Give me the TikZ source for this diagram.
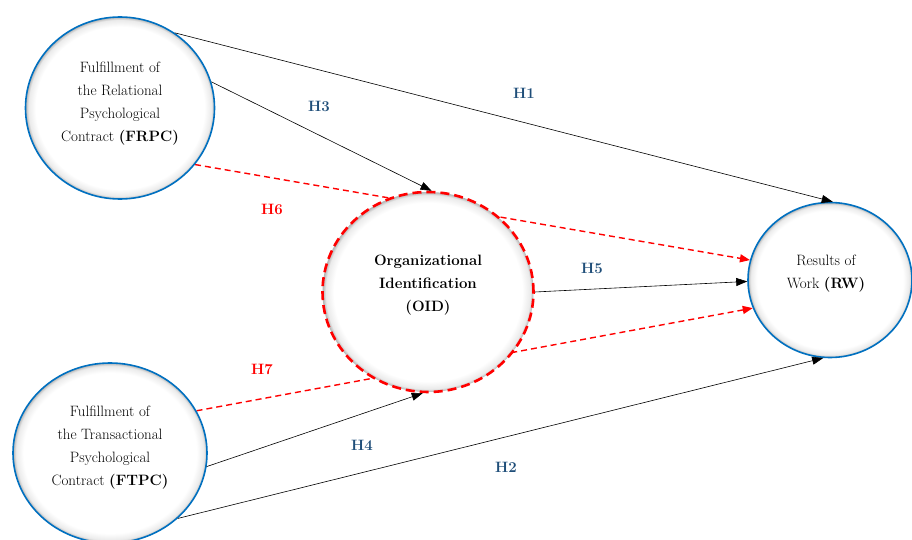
\documentclass[tikz,border=0pt]{standalone}
\usepackage{fontspec}
\setmainfont{Latin Modern Roman}
\usetikzlibrary{shapes.geometric,arrows.meta}
\pgfdeclarelayer{bg}
\pgfsetlayers{bg,main}
\definecolor{circblue}{RGB}{0,112,192}
\definecolor{hblue}{RGB}{31,78,121}
\definecolor{hred}{RGB}{255,0,0}
\colorlet{shadeA}{black!8}
\colorlet{shadeB}{black!30}
\pgfdeclareradialshading{innershadow}{\pgfpoint{0bp}{0bp}}{color(0bp)=(white); color(22.3bp)=(white); color(24.2bp)=(shadeA); color(25bp)=(shadeB); color(50bp)=(shadeB)}
\begin{document}
\begin{tikzpicture}[x=1pt,y=-1pt,
  construct/.style={ellipse, draw=circblue, line width=1.6pt, shading=innershadow, inner sep=0pt},
  mediator/.style={ellipse, draw=hred, line width=2.6pt, dash pattern=on 9pt off 5pt, shading=innershadow, inner sep=0pt},
  txt/.style={align=center, font=\fontsize{15}{23}\selectfont},
  hyp/.style={font=\fontsize{15}{18}\selectfont\bfseries, text=hblue},
  hypred/.style={hyp, text=hred},
  link/.style={draw=black, line width=0.6pt, -{Triangle[length=11pt,width=8pt]}},
  redlink/.style={draw=hred, line width=1.4pt, dash pattern=on 6pt off 4pt, -{Triangle[length=10pt,width=8pt]}}
]
\useasboundingbox (0,0) rectangle (912,540);

% constructs
\node[construct, minimum width=189pt, minimum height=182pt] (frpc) at (120,108) {};
\node[construct, minimum width=194pt, minimum height=180pt] (ftpc) at (110,453) {};
\node[mediator, minimum width=211pt, minimum height=200pt] (oid) at (428,292) {};
\node[construct, minimum width=164pt, minimum height=155pt] (rw) at (830,280) {};

% texts
\node[txt] (frpcT) at (120,104) {Fulfillment of\\the Relational\\Psychological\\Contract \textbf{(FRPC)}};
\node[txt] (ftpcT) at (110,448) {Fulfillment of\\the Transactional\\Psychological\\Contract \textbf{(FTPC)}};
\node[txt, font=\fontsize{15}{23}\selectfont\bfseries] (oidT) at (428,285) {Organizational\\Identification\\(OID)};
\node[txt] (rwT) at (826,274) {Results of\\Work \textbf{(RW)}};

% red dashed paths (behind the mediator)
\begin{pgfonlayer}{bg}
\draw[redlink] (frpc.-37) -- (rw.166);
\draw[redlink] (ftpc.26) -- (rw.200);
\end{pgfonlayer}

% black paths
\draw[link] (frpc.54) -- (rw.88);
\draw[link] (frpc.16) -- (oid.88);
\draw[link] (oid.0) -- (rw.181);
\draw[link] (ftpc.-8) -- (oid.-93);
\draw[link] (ftpc.-44) -- (rw.265);

% hypothesis labels
\node[hyp] (h1) at (524,93) {H1};
\node[hyp] (h3) at (319,106) {H3};
\node[hypred] (h6) at (272,209) {H6};
\node[hyp] (h5) at (592,268) {H5};
\node[hypred] (h7) at (262,369) {H7};
\node[hyp] (h4) at (362,445) {H4};
\node[hyp] (h2) at (506,467) {H2};
\end{tikzpicture}
\end{document}
